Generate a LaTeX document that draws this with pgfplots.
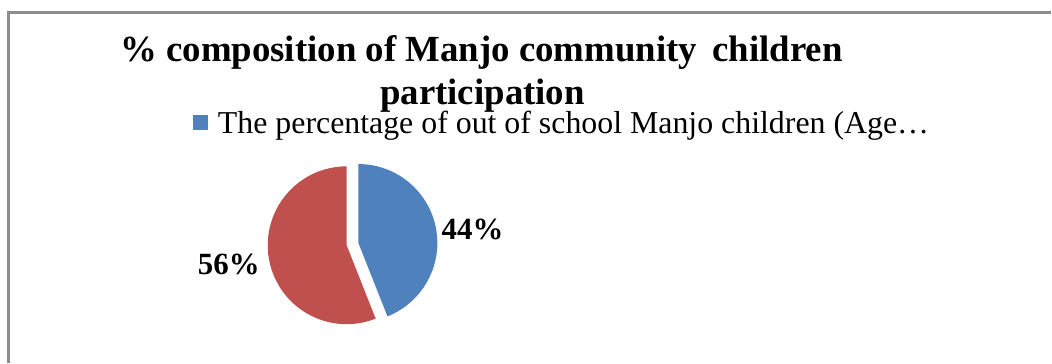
\documentclass[border=0pt]{standalone}
\usepackage{pgfplots}
\pgfplotsset{compat=1.18}
\usepackage{pgfplotstable}
\usepackage{fontspec}
\setmainfont{Liberation Serif}
\definecolor{pieblue}{HTML}{4F81BD}
\definecolor{piered}{HTML}{C0504D}
\definecolor{framegray}{HTML}{8C8C8C}
\pgfplotstableread{
label value
out 44
in 56
}\piedata
\begin{document}
\begin{tikzpicture}
\begin{axis}[
  width=1052bp, height=363bp, scale only axis,
  xmin=0, xmax=1052, ymin=0, ymax=363,
  hide axis, clip=false,
  legend style={at={(axis cs:193,240)}, anchor=west, draw=none, fill=none,
    font=\fontsize{32}{38}\selectfont, inner sep=0pt, column sep=10bp,
    nodes={inner sep=0pt}},
  legend image code/.code={\fill[#1] (0bp,-7.5bp) rectangle (15bp,7.5bp);},
]
\addplot[draw=none, forget plot] coordinates {(0,0) (1052,363)};
\addlegendimage{fill=pieblue, draw=none}
\addlegendentry{The percentage of out of school Manjo children (Age…}
% frame
\draw[framegray, line width=2.2bp] (axis cs:8.5,0) -- (axis cs:8.5,350.5) -- (axis cs:1052,350.5);
% title
\node[anchor=base, font=\fontsize{37}{43}\selectfont\bfseries, inner sep=0pt] at (axis cs:482,301) {\% composition of Manjo community\, children};
\node[anchor=base, font=\fontsize{37}{43}\selectfont\bfseries, inner sep=0pt] at (axis cs:483,258) {participation};
% pie
\pgfplotstablegetelem{0}{value}\of\piedata \let\va\pgfplotsretval
\pgfplotstablegetelem{1}{value}\of\piedata \let\vb\pgfplotsretval
\pgfmathsetmacro{\aend}{90-\va*3.6}
\pgfmathsetmacro{\amid}{90-\va*1.8}
\pgfmathsetmacro{\bend}{\aend-\vb*3.6}
\fill[piered] (axis cs:347,117.5) -- ++(\aend:79bp) arc[start angle=\aend, end angle=\bend, radius=79bp] -- cycle;
\fill[pieblue] (axis cs:347,117.5) ++(\amid:12bp) -- ++(90:79bp) arc[start angle=90, end angle=\aend, radius=79bp] -- cycle;
\node[anchor=base west, inner sep=0pt, font=\fontsize{31}{36}\selectfont\bfseries] at (axis cs:442,123) {\va\%};
\node[anchor=base west, inner sep=0pt, font=\fontsize{31}{36}\selectfont\bfseries] at (axis cs:198,88) {\vb\%};
\end{axis}
\end{tikzpicture}
\end{document}
